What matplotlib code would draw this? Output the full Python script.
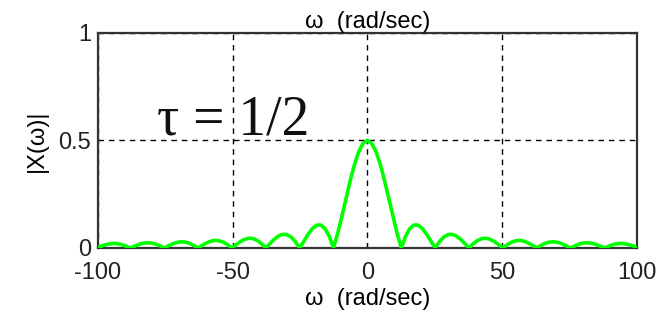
import matplotlib
matplotlib.use('Agg')
import matplotlib.pyplot as plt

plt.rcParams['font.family'] = ['Liberation Sans', 'DejaVu Sans']
plt.rcParams['axes.unicode_minus'] = False

# Magnitude spectrum |X(w)| of a rectangular pulse of width tau = 1/2
omega = [-100.0, -98.96, -97.39, -95.82, -94.25, -92.68, -91.11, -89.54, -87.96,
         -86.39, -84.82, -83.25, -81.68, -80.11, -78.54, -76.97, -75.40,
         -73.83, -72.26, -70.69, -69.12, -67.54, -65.97, -64.40, -62.83,
         -61.26, -59.69, -58.12, -56.55, -54.98, -53.41, -51.84, -50.27,
         -48.69, -47.12, -45.55, -43.98, -42.41, -40.84, -39.27, -37.70,
         -36.13, -34.56, -32.99, -31.42, -29.85, -28.27, -26.70, -25.13,
         -23.56, -21.99, -20.42, -18.85, -17.28, -15.71, -14.14, -12.57,
         -11.00, -9.42, -7.85, -6.28, -4.71, -3.14, -1.57, 0.0,
         1.57, 3.14, 4.71, 6.28, 7.85, 9.42, 11.00, 12.57,
         14.14, 15.71, 17.28, 18.85, 20.42, 21.99, 23.56, 25.13,
         26.70, 28.27, 29.85, 31.42, 32.99, 34.56, 36.13, 37.70,
         39.27, 40.84, 42.41, 43.98, 45.55, 47.12, 48.69, 50.27,
         51.84, 53.41, 54.98, 56.55, 58.12, 59.69, 61.26, 62.83,
         64.40, 65.97, 67.54, 69.12, 70.69, 72.26, 73.83, 75.40,
         76.97, 78.54, 80.11, 81.68, 83.25, 84.82, 86.39, 87.96,
         89.54, 91.11, 92.68, 94.25, 95.82, 97.39, 98.96, 100.0]
mag = [0.0026, 0.0077, 0.0145, 0.0193, 0.0212, 0.0199, 0.0155, 0.0085, 0.0,
       0.0089, 0.0167, 0.0222, 0.0245, 0.0231, 0.0180, 0.0099, 0.0,
       0.0104, 0.0196, 0.0261, 0.0289, 0.0274, 0.0214, 0.0119, 0.0,
       0.0125, 0.0237, 0.0318, 0.0354, 0.0336, 0.0265, 0.0148, 0.0,
       0.0157, 0.0300, 0.0406, 0.0455, 0.0436, 0.0346, 0.0195, 0.0,
       0.0212, 0.0409, 0.0560, 0.0637, 0.0619, 0.0500, 0.0287, 0.0,
       0.0325, 0.0643, 0.0905, 0.1061, 0.1069, 0.0900, 0.0541, 0.0,
       0.0696, 0.150, 0.235, 0.318, 0.392, 0.450, 0.487, 0.5,
       0.487, 0.450, 0.392, 0.318, 0.235, 0.150, 0.0696, 0.0,
       0.0541, 0.0900, 0.1069, 0.1061, 0.0905, 0.0643, 0.0325, 0.0,
       0.0287, 0.0500, 0.0619, 0.0637, 0.0560, 0.0409, 0.0212, 0.0,
       0.0195, 0.0346, 0.0436, 0.0455, 0.0406, 0.0300, 0.0157, 0.0,
       0.0148, 0.0265, 0.0336, 0.0354, 0.0318, 0.0237, 0.0125, 0.0,
       0.0119, 0.0214, 0.0274, 0.0289, 0.0261, 0.0196, 0.0104, 0.0,
       0.0099, 0.0180, 0.0231, 0.0245, 0.0222, 0.0167, 0.0089, 0.0,
       0.0085, 0.0155, 0.0199, 0.0212, 0.0193, 0.0145, 0.0077, 0.0026]

x_ticks = [-100, -50, 0, 50, 100]
y_ticks = [0, 0.5, 1]
y_tick_labels = ['0', '0.5', '1']

fig = plt.figure(figsize=(6.64, 3.2), dpi=100)
ax = fig.add_axes([0.1476, 0.225, 0.8114, 0.672])

ax.plot(omega, mag, color='#00ff00', linewidth=2.6, solid_capstyle='round', zorder=3)

ax.set_xlim(-100, 100)
ax.set_ylim(0, 1)
ax.set_xticks(x_ticks)
ax.set_yticks(y_ticks)
ax.set_yticklabels(y_tick_labels)
ax.grid(True, color='black', linestyle=(0, (4, 3.5)), linewidth=1.0)
ax.tick_params(axis='both', direction='in', length=0, labelsize=17, colors='#222222',
               pad=5)
ax.tick_params(axis='x', pad=10)
for s in ax.spines.values():
    s.set_color('#333333')
    s.set_linewidth(1.6)

ax.set_xlabel('ω  (rad/sec)', fontsize=17, labelpad=3)
ax.set_ylabel('|X(ω)|', fontsize=17)
ax.yaxis.set_label_coords(-0.093, 0.5)
ax.set_title('ω  (rad/sec)', fontsize=17, pad=1)

ax.text(-78, 0.526, 'τ = 1/2', fontsize=40, va='baseline', ha='left',
        family=['Liberation Serif', 'DejaVu Serif'], color='#111111')

fig.savefig('out.png', dpi=100)
